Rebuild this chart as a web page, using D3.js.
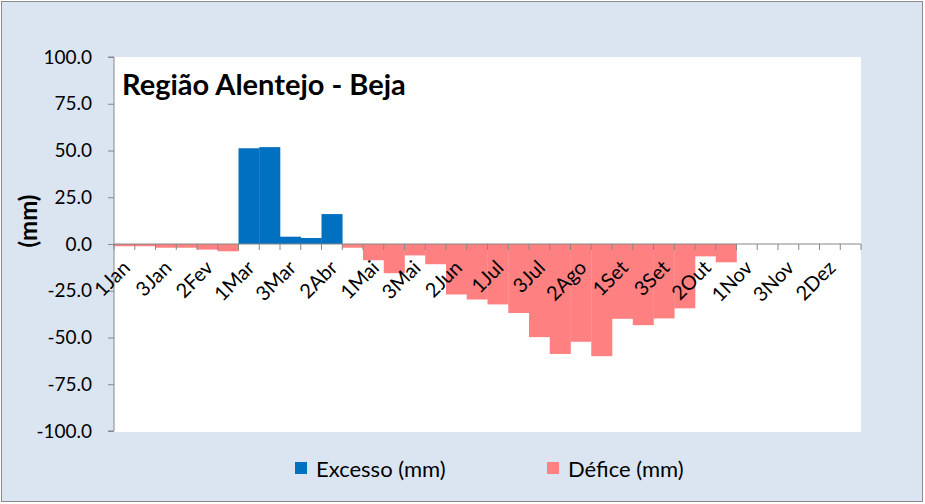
<!DOCTYPE html>
<html>
<head>
<meta charset="utf-8">
<script src="https://cdn.jsdelivr.net/npm/d3@7"></script>
<style>
html,body{margin:0;padding:0;background:#fff;}
svg{display:block;}
text{font-family:Lato,"Open Sans",sans-serif;fill:#000;}
</style>
</head>
<body>
<svg id="chart" width="925" height="504"></svg>
<script>
const categories = ["1Jan","2Jan","3Jan","1Fev","2Fev","3Fev","1Mar","2Mar","3Mar","1Abr","2Abr","3Abr",
  "1Mai","2Mai","3Mai","1Jun","2Jun","3Jun","1Jul","2Jul","3Jul","1Ago","2Ago","3Ago",
  "1Set","2Set","3Set","1Out","2Out","3Out","1Nov","2Nov","3Nov","1Dez","2Dez","3Dez"];
const excesso = [0,0,0,0,0,0,51.2,51.8,3.9,3.2,16.0,0,
  0,0,0,0,0,0,0,0,0,0,0,0,
  0,0,0,0,0,0,0,0,0,0,0,0];
const defice = [-1.2,-1.2,-2.0,-2.0,-3.0,-3.9,0,0,0,0,0,-2.0,
  -8.7,-15.6,-6.1,-10.8,-27.0,-29.7,-32.3,-36.9,-49.8,-58.8,-52.3,-60.0,
  -40.0,-43.4,-39.8,-34.4,-6.6,-9.8,0,0,0,0,0,0];
const yTicks = [-100,-75,-50,-25,0,25,50,75,100];
const xLabels = ["1Jan","3Jan","2Fev","1Mar","3Mar","2Abr","1Mai","3Mai","2Jun","1Jul","3Jul","2Ago","1Set","3Set","2Out","1Nov","3Nov","2Dez"];
const title = "Região Alentejo - Beja";
const yTitle = "(mm)";
const seriesNames = ["Excesso (mm)","Défice (mm)"];
const colors = ["#0070C0","#FF8080"];

const svg = d3.select("#chart");
const W = 925, H = 504;
const plot = {x0:114, x1:861, y0:57, y1:432};

svg.append("rect").attr("x",1.5).attr("y",1.5).attr("width",W-4).attr("height",H-4)
  .attr("fill","#DBE5F1").attr("stroke","#8a8a8a").attr("stroke-width",1);
svg.append("rect").attr("x",plot.x0).attr("y",plot.y0).attr("width",plot.x1-plot.x0).attr("height",plot.y1-plot.y0)
  .attr("fill","#fff");

const x = d3.scaleBand().domain(categories).range([plot.x0, plot.x1]).padding(0);
const y = d3.scaleLinear().domain([-100,100]).range([431, 57]);

// bars
svg.append("g").selectAll("rect").data(categories).join("rect")
  .attr("x", d => x(d)).attr("width", x.bandwidth()+0.3)
  .attr("y", (d,i) => y(Math.max(0, excesso[i])))
  .attr("height", (d,i) => Math.abs(y(excesso[i]) - y(0)))
  .attr("fill", colors[0]);
svg.append("g").selectAll("rect").data(categories).join("rect")
  .attr("x", d => x(d)).attr("width", x.bandwidth()+0.3)
  .attr("y", y(0))
  .attr("height", (d,i) => Math.abs(y(defice[i]) - y(0)))
  .attr("fill", colors[1]);

const axisColor = "#868686";
const fmt = d3.format(".1f");
// y axis
const yAxis = d3.axisLeft(y).tickValues(yTicks).tickSize(6).tickFormat(d => fmt(d).replace("\u2212","-"));
const gy = svg.append("g").attr("transform",`translate(${plot.x0},0)`).call(yAxis);
gy.select(".domain").attr("stroke",axisColor).attr("d",`M-6,${y(100)}H0V${y(-100)}H-6`);
gy.selectAll(".tick line").attr("stroke",axisColor);
gy.selectAll(".tick text").attr("x",-22).style("font-family","Lato").style("font-size","19px").attr("fill","#000");

// x axis line + ticks at category boundaries
const gx = svg.append("g");
gx.append("line").attr("x1",plot.x0).attr("x2",plot.x1).attr("y1",y(0)).attr("y2",y(0))
  .attr("stroke",axisColor).attr("stroke-width",1);
gx.selectAll("line.t").data(d3.range(categories.length+1)).join("line").attr("class","t")
  .attr("x1", i => plot.x0 + i*x.step()).attr("x2", i => plot.x0 + i*x.step())
  .attr("y1", y(0)).attr("y2", y(0)+6).attr("stroke",axisColor);
gx.selectAll("text").data(xLabels).join("text")
  .attr("text-anchor","end")
  .attr("transform", d => `translate(${x(d)+x.bandwidth()/2+7},${y(0)+25}) rotate(-45)`)
  .style("font-size","20px")
  .text(d => d);

// title
svg.append("text").attr("x",122).attr("y",95).style("font-size","29px").style("font-weight","bold").text(title);
// y title
svg.append("text").attr("transform","translate(37,221) rotate(-90)").attr("text-anchor","middle")
  .style("font-size","24px").style("font-weight","bold").text(yTitle);

// legend
const leg = [{x:295, tx:316}, {x:547, tx:568}];
seriesNames.forEach((n,i) => {
  svg.append("rect").attr("x",leg[i].x).attr("y",462).attr("width",12).attr("height",12).attr("fill",colors[i]);
  svg.append("text").attr("x",leg[i].tx).attr("y",477).style("font-size","22px").text(n);
});
</script>
</body>
</html>
